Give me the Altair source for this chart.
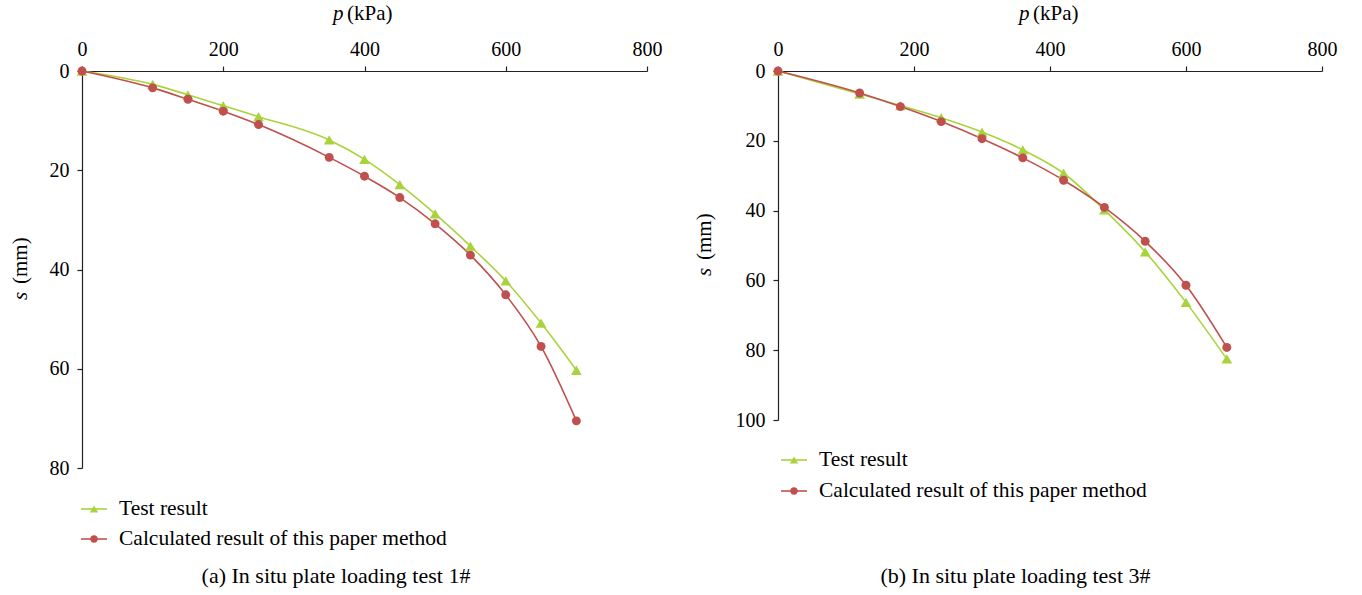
import altair as alt
import pandas as pd

FONT = "Liberation Serif"
series_names = ["Test result", "Calculated result of this paper method"]
series_colors = ["#A9D33C", "#C0504D"]
series_shapes = ["triangle-up", "circle"]
series_sizes = [115, 80]
legend_marker_sizes = [70, 55]

x_ticks = [0, 200, 400, 600, 800]

# Panel (a): In situ plate loading test 1#
p_a = [0, 100, 150, 200, 250, 350, 400, 450, 500, 550, 600, 650, 700]
s_a_test = [0, 2.7, 4.8, 7.0, 9.2, 13.9, 17.8, 22.9, 28.8, 35.3, 42.3, 50.8, 60.3]
s_a_calc = [0, 3.4, 5.7, 8.1, 10.8, 17.4, 21.2, 25.5, 30.8, 37.1, 45.1, 55.5, 70.5]
y_ticks_a = [0, 20, 40, 60, 80]
caption_a = "(a) In situ plate loading test 1#"

# Panel (b): In situ plate loading test 3#
p_b = [0, 120, 180, 240, 300, 360, 420, 480, 540, 600, 660]
s_b_test = [0, 6.6, 9.9, 13.4, 17.5, 22.6, 29.3, 39.8, 51.8, 66.3, 82.5]
s_b_calc = [0, 6.3, 10.2, 14.5, 19.4, 24.9, 31.3, 39.1, 48.8, 61.4, 79.2]
y_ticks_b = [0, 20, 40, 60, 80, 100]
caption_b = "(b) In situ plate loading test 3#"

x_var, x_unit = "p", "(kPa)"
y_var, y_unit = "s", "(mm)"


def one(label):
    return pd.DataFrame({"t": [label]})


def txt(label, xv, yv, size=21, italic=False, angle=0):
    kw = dict(font=FONT, fontSize=size, color="black", align="left", baseline="middle")
    if italic:
        kw["fontStyle"] = "italic"
    if angle:
        kw["angle"] = angle
    return alt.Chart(one(label)).mark_text(**kw).encode(
        text="t:N", x=alt.value(xv), y=alt.value(yv))


def legend_rows(leg_x, leg_ys):
    layers = []
    for i, name in enumerate(series_names):
        yy = leg_ys[i]
        layers.append(alt.Chart(one(name)).mark_rule(
            color=series_colors[i], strokeWidth=1.6).encode(
            x=alt.value(leg_x), x2=alt.value(leg_x + 26), y=alt.value(yy)))
        layers.append(alt.Chart(one(name)).mark_point(
            shape=series_shapes[i], filled=True, opacity=1, size=legend_marker_sizes[i],
            color=series_colors[i]).encode(x=alt.value(leg_x + 13), y=alt.value(yy)))
        layers.append(txt(name, leg_x + 38, yy, size=21.5))
    return layers


def panel(p, s_test, s_calc, ymax, yticks, w, h, caption, cap_offset,
          xt_p, xt_unit, yt_x, yt_s, yt_unit, leg_x, leg_ys):
    df = pd.DataFrame({
        "p": p + p,
        "s": s_test + s_calc,
        "series": [series_names[0]] * len(p) + [series_names[1]] * len(p),
    })
    x = alt.X("p:Q", scale=alt.Scale(domain=[0, 800], nice=False),
              axis=alt.Axis(orient="top", values=x_ticks, title=None, labelFlush=False))
    y = alt.Y("s:Q", scale=alt.Scale(domain=[0, ymax], reverse=True, nice=False),
              axis=alt.Axis(orient="left", values=yticks, title=None))
    cscale = alt.Scale(domain=series_names, range=series_colors)
    base = alt.Chart(df)
    lines = base.mark_line(interpolate="monotone", strokeWidth=1.6).encode(
        x=x, y=y, color=alt.Color("series:N", scale=cscale, legend=None))
    point_layers = [
        base.transform_filter(alt.datum.series == series_names[i]).mark_point(
            filled=True, opacity=1, shape=series_shapes[i], size=series_sizes[i],
            color=series_colors[i]).encode(x=x, y=y)
        for i in range(2)
    ]
    titles = [
        txt(x_var, xt_p, -57, italic=True),
        txt(x_unit, xt_unit, -57),
        txt(y_var, yt_x, yt_s, italic=True, angle=270),
        txt(y_unit, yt_x, yt_unit, angle=270),
    ]
    return alt.layer(lines, *point_layers, *titles, *legend_rows(leg_x, leg_ys)).properties(
        width=w, height=h,
        title=alt.TitleParams(caption, orient="bottom", anchor="middle", frame="bounds",
                              font=FONT, fontSize=22, fontWeight="normal", color="black",
                              offset=cap_offset),
    )


left = panel(p_a, s_a_test, s_a_calc, 80, y_ticks_a, 565, 397, caption_a, 16,
             251, 265, -61, 229, 213, -1, [438, 468])
right = panel(p_b, s_b_test, s_b_calc, 100, y_ticks_b, 544, 349, caption_b, 64,
              241, 255, -73, 205, 189, 3, [389, 420])

chart = alt.hconcat(left, right, spacing=32).resolve_scale(color="independent").properties(
    padding={"left": 10, "top": 3, "right": 5, "bottom": 5},
    background="white",
).configure_view(stroke=None).configure_axis(
    labelFont=FONT, labelFontSize=20, labelColor="black",
    domainColor="#222", tickColor="#222", domainWidth=1.2, tickWidth=1.2,
    tickSize=5, grid=False,
).configure_axisTop(labelPadding=7).configure_axisLeft(labelPadding=8)

chart.save("out.html", embed_options={"renderer": "svg", "actions": False})
